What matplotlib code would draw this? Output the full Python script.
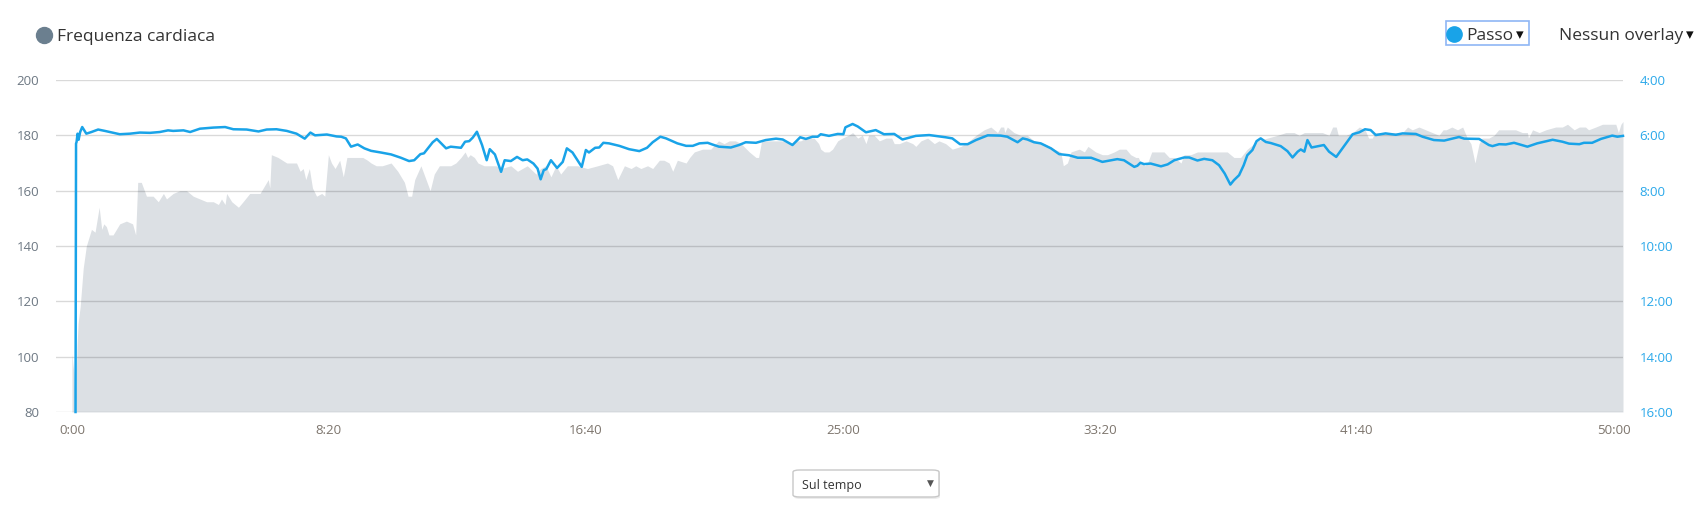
import numpy as np
import matplotlib.pyplot as plt
from matplotlib.lines import Line2D
from matplotlib.patches import FancyBboxPatch, Rectangle

# Heart rate (bpm) over time (s)
hr_t = [0, 2, 4, 6, 8, 10, 12, 16, 22, 28, 38, 45, 53, 58, 62, 67, 72, 80, 93, 106, 118, 124, 128, 135,
        145, 158, 168, 178, 184, 197, 210, 223, 236, 249, 262, 275, 285, 291, 298, 301, 311, 324, 333,
        346, 366, 382, 385, 388, 401, 418, 437, 444, 450, 455, 462, 468, 476, 486, 492, 499, 505, 512,
        521, 528, 535, 553, 566, 575, 582,
        592, 604, 621, 634, 647, 654, 661, 667, 679, 687, 697, 705, 715, 737, 747, 757, 765, 770, 775,
        783, 790, 802, 825, 835, 854, 867, 886, 903, 912, 922, 932, 942, 951, 964, 984, 1003, 1023,
        1042, 1052, 1062, 1075, 1088, 1097, 1107, 1120, 1130, 1143, 1152, 1162, 1169, 1178, 1195,
        1202, 1211, 1227, 1243, 1258, 1269, 1279, 1291, 1302, 1318, 1331, 1336, 1342, 1363, 1383, 1396,
        1409, 1418, 1428, 1444, 1453, 1457, 1464, 1473, 1480, 1490, 1499, 1511, 1519, 1529, 1538, 1545,
        1550, 1561, 1571, 1584, 1595, 1600, 1610, 1623, 1636, 1642, 1652, 1665, 1678, 1687, 1700, 1713,
        1730, 1746, 1759, 1775, 1788, 1801, 1807,
        1813, 1815, 1820, 1833, 1846, 1859, 1872, 1892, 1911, 1924, 1929, 1937, 1944, 1960, 1970, 1977,
        1992, 2005, 2015, 2028, 2038, 2051, 2060, 2070, 2075, 2080, 2088, 2093, 2101, 2112, 2125, 2135,
        2145, 2158, 2164, 2177, 2190, 2203, 2216, 2229, 2248, 2261, 2274, 2287, 2307, 2326, 2346, 2362,
        2378, 2388, 2398, 2407, 2420,
        2433, 2446, 2453, 2460, 2464, 2479, 2492, 2505, 2516, 2523, 2530, 2536, 2550, 2569, 2589, 2599,
        2608, 2621, 2634, 2647, 2660, 2668, 2674, 2685, 2696, 2706, 2715, 2722, 2730, 2738, 2744, 2757,
        2767, 2776, 2783, 2796, 2809, 2822, 2832, 2834, 2842, 2855, 2868, 2887, 2900, 2910, 2923, 2933,
        2945, 2951, 2965, 2978, 2991, 3004, 3009, 3014, 3018]
hr_bpm = [101, 97, 94, 82, 90, 104, 112, 118, 132, 140, 146, 145, 154, 146, 148, 147, 144, 144, 148, 149,
          148, 144, 163, 163, 158, 158, 156, 159, 157, 159, 160, 160, 158, 157, 156, 156, 155, 157, 155,
          159, 156, 154, 156, 159, 159, 164, 161, 173, 172, 170, 170, 167, 168, 164, 168, 161, 158, 159,
          158, 173, 170, 168, 171, 165, 172, 172, 172, 171, 170,
          169, 169, 170, 167, 163, 158, 158, 164, 169, 165, 160, 166, 169, 169, 170, 172, 174, 172, 173,
          172, 170, 169, 169, 168, 169, 167, 169, 166, 168, 169, 165, 169, 166, 169, 169, 168, 169,
          170, 169, 164, 169, 168, 169, 168, 169, 168, 171, 171, 170, 167, 171, 170,
          172, 174, 175, 175, 178, 177, 178, 178, 177, 174, 172, 172, 178, 178, 178, 177,
          178, 178, 179, 179, 177, 175, 174, 174, 175, 178, 179, 180, 181, 179, 180, 177,
          180, 180, 178, 179, 179, 177, 177, 178, 177, 176, 178, 179, 177, 178, 177, 175,
          176, 178, 180, 182, 183, 181, 183,
          183, 181, 183, 181, 180, 180, 178, 177, 175, 174, 169, 170, 174, 175, 174, 176,
          174, 173, 173, 174, 175, 175, 173, 172, 172, 170, 169, 170, 174, 174, 174, 172,
          172, 170, 173, 173, 174, 174, 174, 174, 174, 172, 172, 175, 178, 179, 180, 181,
          181, 180, 181, 181, 181,
          181, 180, 183, 183, 180, 180, 181, 183, 182, 179, 179, 181, 181, 181, 181, 183,
          182, 183, 182, 181, 180, 182, 182, 183, 182, 183, 179, 177, 170, 177, 179, 179,
          180, 182, 182, 182, 182, 181, 181, 179, 182, 181, 182, 183, 183, 184, 182, 183,
          183, 182, 183, 184, 184, 184, 181, 184, 185]

# Pace (min/km) over time (s)
pace_t = [7, 8, 9, 11, 13, 16, 20, 24, 28, 38, 51, 64, 93, 113, 132, 152, 171, 187, 197, 217, 230, 249,
          275, 298, 314, 340, 363, 379, 398, 418, 437, 453, 464, 473, 496, 515, 524, 533, 543, 556, 569, 582,
          601, 621, 640, 656, 666, 678, 685, 702, 710, 728, 737, 757, 765, 773, 780, 788, 798, 807, 813,
          823, 835, 842, 854, 866, 877, 886, 898, 906, 912, 918, 923, 932, 944, 955, 963, 974, 992, 1000,
          1006, 1018, 1026, 1034, 1045, 1065, 1084, 1104, 1119, 1130, 1145, 1156, 1178, 1195,
          1208, 1221, 1237, 1246, 1259, 1282, 1298, 1311, 1331, 1350, 1370, 1383, 1402, 1417, 1428, 1441,
          1451, 1457, 1473, 1490, 1501, 1505, 1512, 1519, 1529, 1545, 1564, 1580, 1600, 1616, 1642, 1668,
          1700, 1713, 1728, 1743, 1759, 1782, 1807,
          1820, 1840, 1850, 1859, 1872, 1885, 1905, 1921, 1940, 1957, 1983, 2005, 2034, 2047, 2067, 2073,
          2079, 2086, 2099, 2119, 2132, 2145, 2164, 2174, 2190, 2203, 2219, 2232, 2243, 2254, 2261, 2271,
          2280, 2287, 2297, 2305, 2313, 2323, 2333, 2352, 2365, 2375, 2385, 2391, 2398, 2404, 2412, 2420,
          2436, 2446, 2460, 2472, 2492, 2505, 2516, 2527, 2537, 2556, 2576, 2589, 2615, 2628, 2650, 2670,
          2699, 2709, 2738, 2757, 2764, 2777, 2790, 2806, 2832, 2851, 2881, 2900, 2913, 2933, 2942, 2958,
          2975, 2997, 3007, 3018]
pace_min = [16.0, 6.30, 6.24, 5.94, 6.16, 5.88, 5.70, 5.82, 5.94, 5.88, 5.79, 5.84, 5.96, 5.94, 5.90,
            5.91, 5.88, 5.82, 5.84, 5.82, 5.88, 5.76, 5.72, 5.70, 5.78, 5.79, 5.86, 5.79, 5.78, 5.84, 5.94,
            6.12, 5.90, 6.00, 5.97, 6.04, 6.05, 6.11, 6.41, 6.33, 6.47, 6.56,
            6.62, 6.69, 6.81, 6.93, 6.90, 6.68, 6.65, 6.25, 6.13, 6.47, 6.41, 6.45, 6.23, 6.21, 6.08, 5.87,
            6.35, 6.90, 6.50, 6.69, 7.32, 6.90, 6.93, 6.78, 6.90, 6.87, 7.02, 7.20, 7.59, 7.26, 7.22, 6.90,
            7.18, 6.96, 6.47, 6.62, 7.14, 6.53, 6.62, 6.45, 6.44, 6.27, 6.29, 6.38, 6.50, 6.57, 6.45, 6.25,
            6.05, 6.11, 6.29, 6.38,
            6.38, 6.29, 6.27, 6.33, 6.41, 6.44, 6.35, 6.25, 6.27, 6.17, 6.12, 6.15, 6.35, 6.07, 6.13, 6.05,
            6.05, 5.96, 6.02, 5.95, 5.96, 5.71, 5.65, 5.59, 5.68, 5.89, 5.81, 5.96, 5.95, 6.15, 6.02, 5.99,
            6.07, 6.11, 6.32, 6.32, 6.17, 6.00, 6.01,
            6.05, 6.25, 6.11, 6.15, 6.25, 6.29, 6.47, 6.68, 6.72, 6.81, 6.81, 6.96, 6.86, 6.90, 7.14, 7.10,
            6.99, 7.04, 7.02, 7.12, 7.05, 6.90, 6.80, 6.80, 6.91, 6.85, 6.90, 7.08, 7.38, 7.78, 7.62, 7.44,
            7.08, 6.72, 6.53, 6.21, 6.11, 6.24, 6.28, 6.39, 6.57, 6.80, 6.59, 6.51, 6.59, 6.17, 6.44, 6.41,
            6.35, 6.59, 6.78, 6.47, 5.96, 5.89, 5.78, 5.81, 5.99, 5.93, 5.98, 5.93, 5.95, 6.05, 6.17, 6.19,
            6.06, 6.12, 6.13, 6.35, 6.39, 6.32, 6.33, 6.27, 6.41, 6.29, 6.16, 6.23, 6.30, 6.32, 6.27, 6.27,
            6.13, 6.01, 6.05, 6.02]

hr_ticks = [80, 100, 120, 140, 160, 180, 200]
pace_ticks = [4, 6, 8, 10, 12, 14, 16]
time_ticks = [0, 500, 1000, 1500, 2000, 2500, 3000]
time_labels = ['0:00', '8:20', '16:40', '25:00', '33:20', '41:40', '50:00']

W, H = 1705, 521
plt.rcParams['font.family'] = ['Open Sans', 'DejaVu Sans']

fig = plt.figure(figsize=(W / 100, H / 100), dpi=100)

def fx(px):
  return px / W

def fy(py):
  return 1 - py / H

ax = fig.add_axes([fx(56), fy(412), fx(1623) - fx(56), fy(80) - fy(412)])
ax.fill_between(hr_t, 80, hr_bpm, color='#dce0e4', lw=0, zorder=1)
for v in hr_ticks:
  ax.axhline(v, color='black', alpha=0.15, lw=1, zorder=2)
ax.set_xlim(-31, 3018)
ax.set_ylim(80, 200)
ax.set_yticks(hr_ticks)
ax.set_xticks(time_ticks)
ax.set_xticklabels(time_labels)
for s in ax.spines.values():
  s.set_visible(False)
ax.tick_params(axis='y', length=0, pad=12, labelsize=9.5, labelcolor='#6d7883')
ax.tick_params(axis='x', length=0, pad=9, labelsize=9.5, labelcolor='#7d756d')

ax2 = ax.twinx()
ax2.plot(pace_t, pace_min, color='#19a3e8', lw=1.8, zorder=3, clip_on=False)
ax2.set_ylim(16, 4)
ax2.set_yticks(pace_ticks)
ax2.set_yticklabels(['%d:00' % p for p in pace_ticks])
for s in ax2.spines.values():
  s.set_visible(False)
ax2.tick_params(axis='y', length=0, pad=12, labelsize=9.5, labelcolor='#2aa8ea')

# Top legend / selectors
fig.add_artist(Line2D([fx(44)], [fy(35)], marker='o', markersize=11.5, color='#6b7f8f',
                      transform=fig.transFigure))
fig.text(fx(57), fy(37), 'Frequenza cardiaca', fontsize=12.5, color='#333333', va='center')

fig.add_artist(Rectangle((fx(1446), fy(45)), fx(1529) - fx(1446), fy(21) - fy(45),
                         transform=fig.transFigure, fill=False, ec='#8fb6f5', lw=1.2))
fig.add_artist(Line2D([fx(1454)], [fy(34)], marker='o', markersize=11, color='#19a3e8',
                      transform=fig.transFigure))
fig.text(fx(1466), fy(36), 'Passo', fontsize=12.5, color='#333333', va='center')
fig.text(fx(1516), fy(36), '▾', fontsize=11, color='#111111', va='center')
fig.text(fx(1559), fy(36), 'Nessun overlay', fontsize=12.5, color='#333333', va='center')
fig.text(fx(1686), fy(36), '▾', fontsize=11, color='#111111', va='center')

# Bottom dropdown (with a faint shadow)
fig.add_artist(FancyBboxPatch((fx(794), fy(499)), fx(940) - fx(794), fy(471) - fy(499),
                              boxstyle='round,pad=0,rounding_size=0.004', transform=fig.transFigure,
                              fc='#ececec', ec='none'))
fig.add_artist(FancyBboxPatch((fx(793), fy(497)), fx(939) - fx(793), fy(470) - fy(497),
                              boxstyle='round,pad=0,rounding_size=0.004', transform=fig.transFigure,
                              fc='white', ec='#c8c8c8', lw=1))
fig.text(fx(802), fy(485), 'Sul tempo', fontsize=9, color='#333333', va='center')
fig.text(fx(927), fy(483), '▼', fontsize=6.5, color='#555555', va='center')

plt.savefig('out.png', dpi=100)
